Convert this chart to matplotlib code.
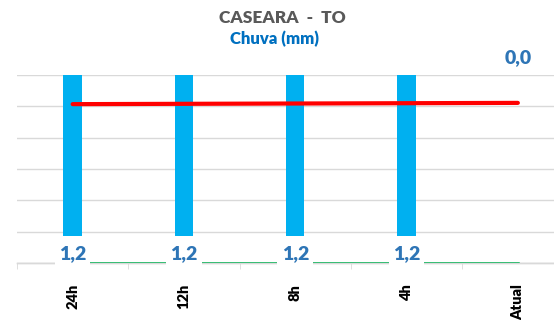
import matplotlib.pyplot as plt
import numpy as np

# Dados de chuva (mm) por janela de tempo
periodos = ['24h', '12h', '8h', '4h', 'Atual']
chuva = [1.2, 1.2, 1.2, 1.2, 0.0]
limite = [5.07, 5.08, 5.09, 5.10, 5.11]
nivel = [0.0, 0.0, 0.0, 0.0, 0.0]

plt.rcParams['font.family'] = ['Lato', 'DejaVu Sans']

fig = plt.figure(figsize=(5.54, 3.2), dpi=100)
ax = fig.add_axes([17 / 554, 57 / 320, 1 - 17 / 554, 188 / 320])
x = np.arange(len(periodos))

# Barras de chuva (eixo principal, com grade por baixo)
ymin, ymax = -0.1677, 1.0
ax.bar(x, chuva, width=0.165, color='#00B0F0', zorder=2)
ax.set_ylim(ymin, ymax)
ax.set_yticks(np.linspace(ymin, ymax, 7))
ax.yaxis.grid(True, color='#D9D9D9', linewidth=1, zorder=0)
ax.set_axisbelow(True)
ax.set_xlim(-0.5, -0.5 + 537 / 111.3)

# Eixo secundário para as linhas
ax2 = ax.twinx()
ax2.set_ylim(0, 6)
ax2.plot(x, limite, color='#FF0000', linewidth=3, solid_capstyle='round', zorder=3)
ax2.plot(x, nivel, color='#00B050', linewidth=1.8, zorder=3)
ax2.set_yticks([])
ax.tick_params(axis='y', left=False, right=False, labelleft=False, labelright=False)

for a in (ax, ax2):
    for s in ['top', 'right', 'left']:
        a.spines[s].set_visible(False)
    a.spines['bottom'].set_color('#D9D9D9')
    a.spines['bottom'].set_linewidth(1)

# Rótulos do eixo x
ax.set_xticks(x)
ax.set_xticklabels(periodos, rotation=90, fontweight='heavy', fontsize=10.5, va='top')
ax.set_xticks(np.arange(-0.5, 4, 1), minor=True)
ax.tick_params(axis='x', which='major', length=0, pad=15)
ax.tick_params(axis='x', which='minor', length=4, color='#D9D9D9', direction='out')

# Rótulos de valor das barras
for i, v in enumerate(chuva):
    txt = f'{v:.1f}'.replace('.', ',')
    if v > 0:
        ax2.text(i, 0.29, txt, ha='center', va='center', fontsize=14,
                 fontweight='heavy', color='#2E75B6', zorder=5,
                 bbox=dict(facecolor='white', edgecolor='none', pad=3))
    else:
        ax2.text(i, 1.095, txt, transform=ax2.get_xaxis_transform(),
                 ha='center', va='center', fontsize=14, fontweight='heavy',
                 color='#2E75B6', zorder=5)

fig.text(282 / 554, 1 - 18 / 320, 'CASEARA  -  TO', ha='center', va='center',
         fontsize=12.5, fontweight='heavy', color='#595959')
fig.text(274 / 554, 1 - 39 / 320, 'Chuva (mm)', ha='center', va='center',
         fontsize=12, fontweight='heavy', color='#0070C0')

fig.savefig('out.png', dpi=100)
